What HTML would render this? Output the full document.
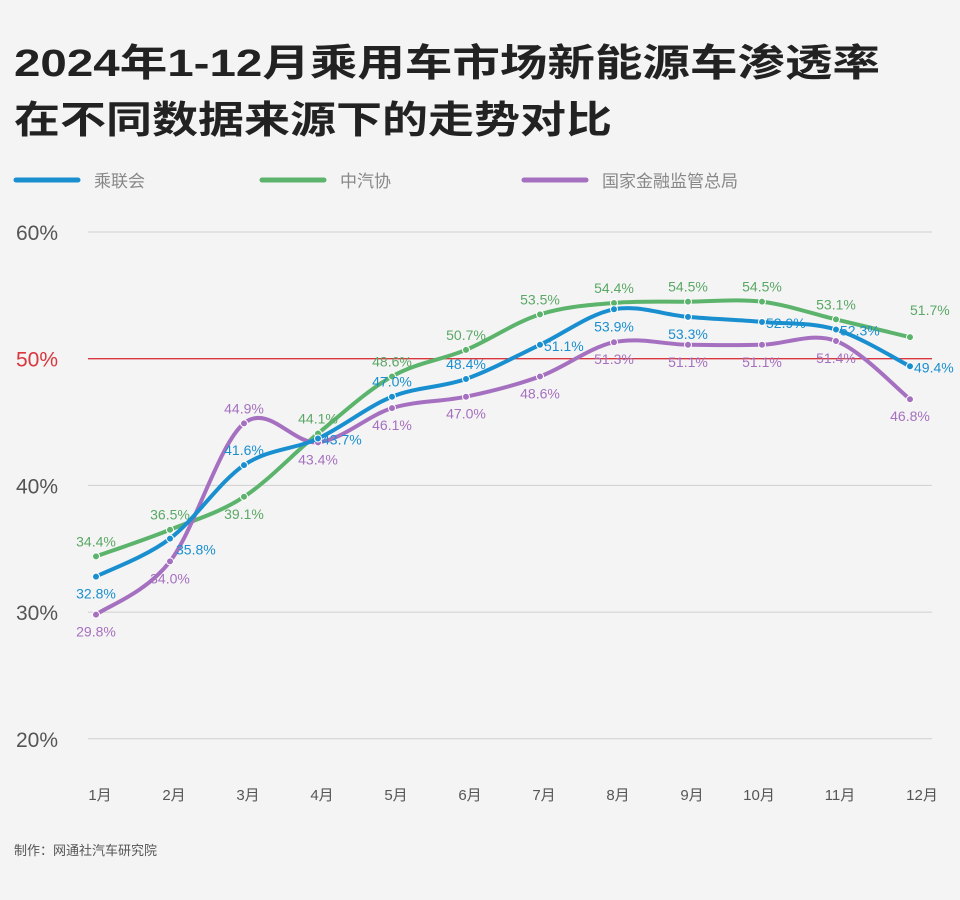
<!DOCTYPE html>
<html><head><meta charset="utf-8">
<style>
body{margin:0;background:#f4f4f4;font-family:"Liberation Sans","Noto Sans CJK SC",sans-serif;}
#wrap{position:relative;width:960px;height:900px;overflow:hidden;background:#f4f4f4;}
</style></head>
<body>
<div id="wrap">
<svg id="chart" width="960" height="900" xmlns="http://www.w3.org/2000/svg">
<text x="14" y="76" font-size="38" font-weight="bold" fill="#222" font-family="Liberation Sans, Noto Sans CJK SC, sans-serif" textLength="866" lengthAdjust="spacingAndGlyphs">2024年1-12月乘用车市场新能源车渗透率</text>
<text x="14" y="133" font-size="38" font-weight="bold" fill="#222" font-family="Liberation Sans, Noto Sans CJK SC, sans-serif" textLength="598" lengthAdjust="spacingAndGlyphs">在不同数据来源下的走势对比</text>
<g>
<g><line x1="16" y1="180" x2="78" y2="180" stroke="#1a8fd0" stroke-width="5" stroke-linecap="round"/><text x="94" y="187" font-size="17" fill="#888">乘联会</text></g>
<g><line x1="262" y1="180" x2="324" y2="180" stroke="#5cb46c" stroke-width="5" stroke-linecap="round"/><text x="340" y="187" font-size="17" fill="#888">中汽协</text></g>
<g><line x1="524" y1="180" x2="586" y2="180" stroke="#a670c0" stroke-width="5" stroke-linecap="round"/><text x="602" y="187" font-size="17" fill="#888">国家金融监管总局</text></g>
</g>
<g id="axes"></g>
<g id="series"></g>
<text x="14" y="855" font-size="13" fill="#555">制作：网通社汽车研究院</text>
</svg>
</div>
<script>
const months=["1月","2月","3月","4月","5月","6月","7月","8月","9月","10月","11月","12月"];
const yTicks=[20,30,40,50,60];
const cpca=[32.8,35.8,41.6,43.7,47.0,48.4,51.1,53.9,53.3,52.9,52.3,49.4];
const caam=[34.4,36.5,39.1,44.1,48.6,50.7,53.5,54.4,54.5,54.5,53.1,51.7];
const nfra=[29.8,34.0,44.9,43.4,46.1,47.0,48.6,51.3,51.1,51.1,51.4,46.8];

const NS="http://www.w3.org/2000/svg";
const y=v=>232+(60-v)*12.67;
const x=i=>96+i*74;
const tickShift=[4,4,4,4,4,4,4,4,4,-3,4,12];
function mk(tag,attrs,parent){const e=document.createElementNS(NS,tag);for(const k in attrs)e.setAttribute(k,attrs[k]);parent.appendChild(e);return e;}
const axes=document.getElementById('axes');
yTicks.forEach(t=>{
  const l=mk('line',{x1:88,x2:932,y1:y(t),y2:y(t),stroke:t===50?'#d9363e':'#cfcfcf','stroke-width':t===50?1.3:1},axes);
  
  
  const tx=mk('text',{x:16,y:y(t)+8,'font-size':21,fill:t===50?'#d9363e':'#555'},axes);
  tx.textContent=t+'%';
  
  
});
months.forEach((m,i)=>{
  const tx=mk('text',{x:x(i)+tickShift[i],y:800,'font-size':15,fill:'#555','text-anchor':'middle'},axes);
  tx.textContent=m;
  
  
});
function path(vals){
  const p=vals.map((v,i)=>[x(i),y(v)]);
  let d='M'+p[0][0]+','+p[0][1];
  for(let i=0;i<p.length-1;i++){
    const p0=p[i-1]||p[i],p1=p[i],p2=p[i+1],p3=p[i+2]||p2;
    const c1=[p1[0]+(p2[0]-p0[0])/6,p1[1]+(p2[1]-p0[1])/6];
    const c2=[p2[0]-(p3[0]-p1[0])/6,p2[1]-(p3[1]-p1[1])/6];
    d+=` C${c1[0]},${c1[1]} ${c2[0]},${c2[1]} ${p2[0]},${p2[1]}`;
  }
  return d;
}
const ser=document.getElementById('series');
const cfg=[
 {name:'caam',vals:caam,color:'#5cb46c',lab:'#5aa865',pos:['a','a','b','a','a','a','a','a','a','a','a','ar']},
 {name:'nfra',vals:nfra,color:'#a670c0',lab:'#a670c0',pos:['b','b','a','b','b','b','b','b','b','b','b','b']},
 {name:'cpca',vals:cpca,color:'#1a8fd0',lab:'#1a8fd0',pos:['b','br','a','r','a','a','r','b','b','r','r','r']}
];
cfg.forEach(s=>{
  const g=mk('g',{},ser);
  
  
  const pth=mk('path',{d:path(s.vals),fill:'none',stroke:s.color,'stroke-width':4,'stroke-linecap':'round'},g);
  
  
  s.vals.forEach((v,i)=>{
    const c=mk('circle',{cx:x(i),cy:y(v),r:3.5,fill:s.color,stroke:'#fff','stroke-width':1},g);
    
    
    let lx=x(i),ly=y(v),anc='middle';
    const p=s.pos[i];
    if(p==='a')ly-=10;
    else if(p==='b')ly+=22;
    else if(p==='r'){lx+=4;anc='start';ly+=6;}
    else if(p==='br'){lx+=6;anc='start';ly+=16;}
    else if(p==='ar'){lx+=0;anc='start';ly-=22;}
    const t=mk('text',{x:lx,y:ly,'font-size':14,fill:s.lab,'text-anchor':anc},g);
    t.textContent=v.toFixed(1)+'%';
    
    
  });
});
</script>
</body></html>
